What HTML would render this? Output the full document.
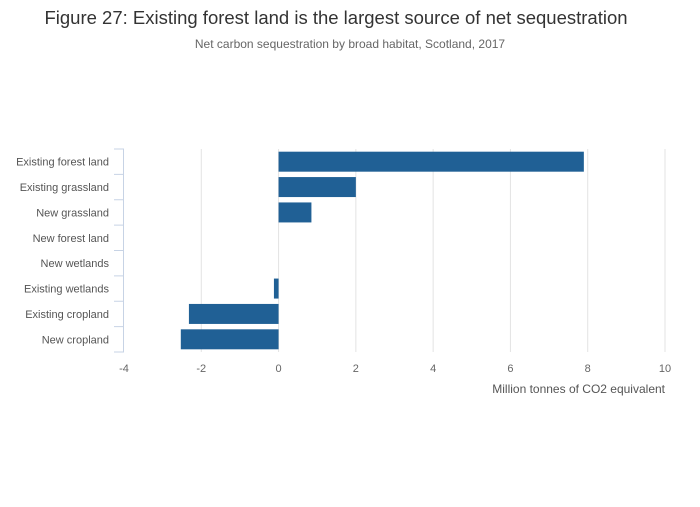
<!DOCTYPE html>
<html><head><meta charset="utf-8"><style>
body{margin:0;background:#fff;font-family:"Liberation Sans",sans-serif}
svg text{font-family:"Liberation Sans",sans-serif}
</style></head><body>
<svg id="c" width="700" height="502">
<text x="336" y="24" text-anchor="middle" font-size="18.5" fill="#333">Figure 27: Existing forest land is the largest source of net sequestration</text>
<text x="350" y="48" text-anchor="middle" font-size="12" fill="#666">Net carbon sequestration by broad habitat, Scotland, 2017</text>
<g id="grid"></g><g id="bars"></g><g id="yax"></g><g id="xax"></g>
<text x="665" y="393" text-anchor="end" font-size="12" fill="#555">Million tonnes of CO2 equivalent</text>
</svg>
<script>
const categories=["Existing forest land","Existing grassland","New grassland","New forest land","New wetlands","Existing wetlands","Existing cropland","New cropland"];
const values=[7.9,2.0,0.85,0,0,-0.12,-2.32,-2.53];
const xTicks=[-4,-2,0,2,4,6,8,10];
const NS="http://www.w3.org/2000/svg";
const x0=124,x1=665,pT=149,pB=352;
const xs=v=>x0+(v+4)/14*(x1-x0);
const rh=(pB-pT)/categories.length;
function mk(t,a,p){const e=document.createElementNS(NS,t);for(const k in a)e.setAttribute(k,a[k]);p.appendChild(e);return e;}
const g=document.getElementById('grid'),b=document.getElementById('bars'),ya=document.getElementById('yax'),xa=document.getElementById('xax');
xTicks.forEach(t=>{
 if(t>-4){const l=mk('line',{x1:xs(t),x2:xs(t),y1:pT,y2:pB,stroke:'#e3e3e3','stroke-width':1},g);
 
 }
 const tx=mk('text',{x:xs(t),y:372,'text-anchor':'middle','font-size':11,fill:'#666'},xa);tx.textContent=t;
 
 
});
const ax=mk('line',{x1:123.5,x2:123.5,y1:pT,y2:pB,stroke:'#c7d3e5','stroke-width':1},ya);


for(let i=0;i<=categories.length;i++){const y=pT+i*rh;
 const tk=mk('line',{x1:114,x2:124,y1:y,y2:y,stroke:'#c7d3e5','stroke-width':1},ya);
 
 }
categories.forEach((c,i)=>{
 const cy=pT+(i+0.5)*rh;
 const t=mk('text',{x:109,y:cy+4,'text-anchor':'end','font-size':11,fill:'#555'},ya);t.textContent=c;
 
 
 const v=values[i];if(v===0)return;
 const r=mk('rect',{x:Math.min(xs(0),xs(v)),y:cy-10,width:Math.abs(xs(v)-xs(0)),height:20,fill:'#206095'},b);
 
 
});
</script>
</body></html>
